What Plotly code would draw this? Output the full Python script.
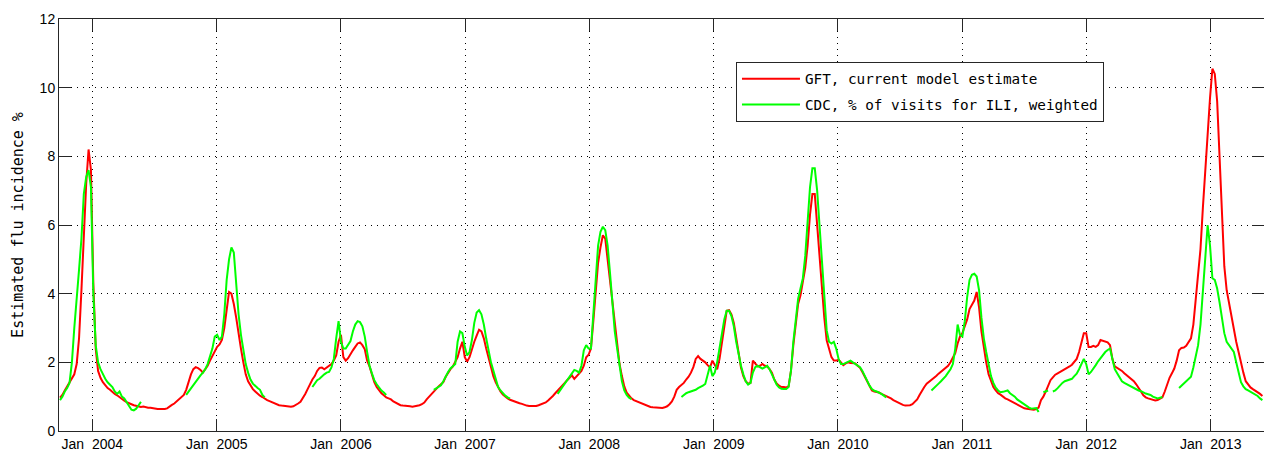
import pandas as pd
import plotly.graph_objects as go

N = None

# Weekly values (week starting Sunday), one list per calendar year
week_starts = {2003: "2003-09-28", 2004: "2004-01-04", 2005: "2005-01-02", 2006: "2006-01-01",
               2007: "2007-01-07", 2008: "2008-01-06", 2009: "2009-01-04", 2010: "2010-01-03",
               2011: "2011-01-02", 2012: "2012-01-01", 2013: "2013-01-06"}

# GFT, current model estimate
gft_2003 = [0.97, 1.05, 1.18, 1.3, 1.45, 1.55, 1.65, 1.95, 2.7, 4.1, 5.7, 7.2, 8.2, 7.6]
gft_2004 = [4.3, 2.4, 1.75, 1.55, 1.42, 1.32, 1.25, 1.2, 1.13, 1.08, 1.04, 0.98, 0.93, 0.88, 0.84, 0.8,
            0.78, 0.75, 0.73, 0.71, 0.7, 0.71, 0.69, 0.68, 0.68, 0.66, 0.66, 0.64, 0.64, 0.63, 0.64, 0.66,
            0.72, 0.76, 0.8, 0.86, 0.92, 0.97, 1.05, 1.2, 1.45, 1.65, 1.8, 1.86, 1.83, 1.78, 1.7, 1.8,
            1.9, 2.05, 2.2, 2.35]
gft_2005 = [2.45, 2.52, 2.65, 3.0, 3.6, 4.05, 4.0, 3.7, 3.3, 2.8, 2.4, 2.0, 1.65, 1.45, 1.32, 1.22,
            1.15, 1.08, 1.03, 0.99, 0.94, 0.9, 0.87, 0.84, 0.8, 0.77, 0.75, 0.74, 0.73, 0.72, 0.7, 0.71,
            0.72, 0.75, 0.8, 0.85, 0.95, 1.08, 1.22, 1.38, 1.5, 1.6, 1.75, 1.84, 1.85, 1.8, 1.85, 1.9,
            1.95, 2.05, 2.2, 2.6]
gft_2006 = [2.8, 2.15, 2.05, 2.12, 2.25, 2.35, 2.45, 2.55, 2.58, 2.5, 2.38, 2.05, 1.88, 1.65, 1.42, 1.28,
            1.17, 1.1, 1.04, 0.98, 0.95, 0.92, 0.86, 0.82, 0.78, 0.75, 0.74, 0.74, 0.74, 0.72, 0.71, 0.72,
            0.73, 0.75, 0.78, 0.83, 0.92, 1.0, 1.08, 1.17, 1.24, 1.3, 1.36, 1.42, 1.58, 1.7, 1.8, 1.88,
            2.0, 2.15, 2.4, 2.6, 2.15]
gft_2007 = [2.02, 2.15, 2.4, 2.6, 2.78, 2.95, 2.9, 2.7, 2.4, 2.12, 1.85, 1.6, 1.42, 1.26, 1.15, 1.06,
            1.0, 0.95, 0.91, 0.88, 0.85, 0.83, 0.81, 0.79, 0.76, 0.74, 0.73, 0.73, 0.72, 0.73, 0.75, 0.77,
            0.79, 0.83, 0.89, 0.95, 1.02, 1.1, 1.17, 1.23, 1.32, 1.4, 1.48, 1.55, 1.62, 1.52, 1.6, 1.66,
            1.75, 1.9, 2.15, 2.22]
gft_2008 = [2.4, 3.2, 4.0, 4.9, 5.35, 5.7, 5.6, 5.0, 4.3, 3.7, 3.1, 2.55, 1.95, 1.6, 1.3, 1.12,
            1.02, 0.95, 0.9, 0.87, 0.84, 0.81, 0.78, 0.75, 0.72, 0.7, 0.69, 0.68, 0.67, 0.66, 0.67, 0.69,
            0.72, 0.78, 0.86, 1.0, 1.2, 1.28, 1.33, 1.4, 1.5, 1.58, 1.7, 1.86, 2.1, 2.18, 2.1, 2.05,
            2.0, 1.92, 1.85, 2.05]
gft_2009 = [1.9, 1.8, 2.1, 2.6, 3.15, 3.5, 3.52, 3.4, 3.15, 2.7, 2.25, 1.85, 1.6, 1.45, 1.38, 1.4,
            2.05, 1.95, 1.88, 1.9, 1.95, 1.9, 1.88, 1.8, 1.7, 1.5, 1.38, 1.32, 1.28, 1.28, 1.27, 1.3,
            1.75, 2.5, 3.2, 3.7, 3.95, 4.3, 4.75, 5.4, 6.3, 6.9, 6.9, 6.0, 5.1, 4.1, 3.3, 2.64,
            2.35, 2.15, 2.05, 2.05]
gft_2010 = [2.08, 2.0, 1.92, 1.97, 2.0, 1.98, 1.97, 1.97, 1.9, 1.84, 1.72, 1.58, 1.45, 1.3, 1.18, 1.15,
            1.14, 1.12, 1.08, 1.05, 1.02, 0.99, 0.95, 0.9, 0.86, 0.82, 0.79, 0.76, 0.74, 0.74, 0.75, 0.78,
            0.84, 0.92, 1.05, 1.18, 1.28, 1.38, 1.43, 1.48, 1.53, 1.6, 1.67, 1.73, 1.78, 1.83, 1.9, 2.0,
            2.12, 2.27, 2.55, 2.75]
gft_2011 = [2.85, 3.05, 3.25, 3.55, 3.68, 3.8, 4.05, 3.6, 2.9, 2.4, 2.0, 1.65, 1.45, 1.28, 1.18, 1.1,
            1.06, 1.0, 0.95, 0.92, 0.88, 0.84, 0.8, 0.76, 0.74, 0.7, 0.66, 0.65, 0.64, 0.61, 0.62, 0.64,
            0.68, 0.9, 1.0, 1.15, 1.3, 1.48, 1.56, 1.64, 1.68, 1.72, 1.75, 1.78, 1.83, 1.88, 1.93, 2.0,
            2.1, 2.3, 2.6, 2.85]
gft_2012 = [2.85, 2.45, 2.45, 2.48, 2.45, 2.5, 2.65, 2.62, 2.6, 2.58, 2.5, 2.1, 1.88, 1.84, 1.8, 1.75,
            1.68, 1.62, 1.56, 1.52, 1.45, 1.36, 1.27, 1.15, 1.04, 0.98, 0.95, 0.93, 0.91, 0.89, 0.9, 0.93,
            0.98, 1.15, 1.35, 1.55, 1.68, 1.82, 2.05, 2.35, 2.42, 2.43, 2.48, 2.58, 2.7, 3.1, 3.8, 4.5,
            5.3, 6.5, 7.6, 8.6, 9.7]
gft_2013 = [10.55, 10.4, 9.6, 8.1, 6.2, 4.8, 4.1, 3.7, 3.3, 3.0, 2.6, 2.3, 1.95, 1.7, 1.45, 1.35,
            1.27, 1.22, 1.18, 1.14, 1.08, 1.02]

# CDC, % of visits for ILI, weighted (None = not reported)
cdc_2003 = [0.9, 1.0, 1.15, 1.25, 1.4, 2.0, 3.0, 4.0, 4.7, 5.6, 6.9, 7.4, 7.6, 7.1]
cdc_2004 = ([4.0, 2.5, 2.0, 1.8, 1.65, 1.52, 1.42, 1.35, 1.28, 1.15, 1.08, 1.15, 1.0, 0.95, 0.85, 0.72,
             0.62, 0.6, 0.65, 0.75, 0.85] + [N] * 18 +
            [1.05, 1.15, 1.25, 1.33, 1.45, 1.55, 1.62, 1.7, 1.8, 1.95, 2.15, 2.4, 2.75])
cdc_2005 = ([2.8, 2.65, 2.75, 3.4, 4.4, 5.0, 5.35, 5.2, 4.3, 3.4, 2.8, 2.3, 1.95, 1.7, 1.5, 1.38,
             1.3, 1.25, 1.2, 1.05, 0.98] + [N] * 19 +
            [1.28, 1.4, 1.48, 1.52, 1.6, 1.65, 1.7, 1.72, 1.85, 2.1, 2.7, 3.2])
cdc_2006 = ([2.6, 2.4, 2.4, 2.5, 2.62, 2.9, 3.1, 3.2, 3.17, 3.05, 2.75, 2.3, 1.9, 1.68, 1.48, 1.36,
             1.25, 1.18, 1.12, 1.05] + [N] * 19 +
            [1.2, 1.25, 1.3, 1.33, 1.45, 1.6, 1.72, 1.82, 1.88, 1.95, 2.6, 2.9, 2.85, 2.45])
cdc_2007 = ([2.2, 2.3, 2.65, 3.15, 3.45, 3.52, 3.4, 3.1, 2.7, 2.3, 2.0, 1.76, 1.5, 1.28, 1.18, 1.1,
             1.03, 0.98, 0.94] + [N] * 19 +
            [1.08, 1.18, 1.25, 1.35, 1.47, 1.56, 1.65, 1.78, 1.75, 1.7, 1.9, 2.35, 2.5, 2.4])
cdc_2008 = ([2.4, 3.5, 4.6, 5.4, 5.8, 5.95, 5.85, 5.4, 4.6, 3.7, 2.9, 2.4, 1.9, 1.45, 1.18, 1.05,
             0.97, 0.93] + [N] * 20 +
            [0.99, 1.05, 1.1, 1.13, 1.15, 1.17, 1.2, 1.25, 1.28, 1.32, 1.37, 1.6, 1.9, 1.6])
cdc_2009 = [1.7, 2.0, 2.45, 2.85, 3.25, 3.5, 3.5, 3.35, 3.05, 2.6, 2.2, 1.9, 1.65, 1.45, 1.35, 1.4,
            1.7, 1.86, 1.9, 1.85, 1.82, 1.85, 1.9, 1.8, 1.65, 1.45, 1.35, 1.27, 1.23, 1.22, 1.22, 1.28,
            1.75, 2.6, 3.3, 3.85, 4.15, 4.45, 5.1, 6.1, 7.1, 7.65, 7.65, 7.0, 6.0, 4.8, 3.7, 2.93,
            2.6, 2.55, 2.6, 2.4]
cdc_2010 = ([2.1, 1.95, 1.95, 1.98, 2.02, 2.05, 2.0, 1.96, 1.9, 1.86, 1.75, 1.6, 1.45, 1.32, 1.22, 1.17,
             1.15, 1.12, 1.08, 1.03, 0.98] + [N] * 18 +
            [1.18, 1.24, 1.32, 1.38, 1.45, 1.52, 1.6, 1.7, 1.8, 1.95, 2.4, 3.1, 2.8])
cdc_2011 = ([2.75, 3.2, 3.9, 4.4, 4.55, 4.58, 4.5, 4.1, 3.3, 2.7, 2.3, 1.95, 1.6, 1.4, 1.26, 1.18,
             1.13, 1.14, 1.16, 1.18, 1.1, 1.05, 1.0, 0.92, 0.87, 0.82, 0.76, 0.72, 0.68, 0.65, 0.66, 0.67,
             0.55] + [N] + [1.13, 1.15, 1.18] + [N] +
            [1.15, 1.18, 1.25, 1.33, 1.4, 1.45, 1.48, 1.5, 1.52, 1.6, 1.67, 1.8, 1.95, 2.1])
cdc_2012 = ([1.95, 1.65, 1.72, 1.81, 1.92, 2.03, 2.12, 2.22, 2.3, 2.36, 2.4, 2.1, 1.8, 1.68, 1.55, 1.45,
             1.4, 1.36, 1.32, 1.3, 1.26, 1.2, 1.18, 1.16, 1.12, 1.09, 1.07, 1.05, 1.0, 0.97, 0.95, 0.97,
             0.99] + [N] * 6 +
            [1.25, 1.32, 1.38, 1.45, 1.52, 1.58, 1.85, 2.15, 2.5, 3.1, 4.1, 5.2, 6.0, 5.4])
cdc_2013 = [4.45, 4.4, 4.15, 3.75, 3.3, 2.85, 2.6, 2.5, 2.42, 2.3, 2.0, 1.7, 1.42, 1.3, 1.22, 1.18,
            1.14, 1.1, 1.08, 1.02, 0.95, 0.9]

gft_by_year = {2003: gft_2003, 2004: gft_2004, 2005: gft_2005, 2006: gft_2006, 2007: gft_2007,
               2008: gft_2008, 2009: gft_2009, 2010: gft_2010, 2011: gft_2011, 2012: gft_2012,
               2013: gft_2013}
cdc_by_year = {2003: cdc_2003, 2004: cdc_2004, 2005: cdc_2005, 2006: cdc_2006, 2007: cdc_2007,
               2008: cdc_2008, 2009: cdc_2009, 2010: cdc_2010, 2011: cdc_2011, 2012: cdc_2012,
               2013: cdc_2013}

tick_years = list(range(2004, 2014))
tick_labels = [f"Jan\u00a0\u00a0{y}" for y in tick_years]
y_ticks = [0, 2, 4, 6, 8, 10, 12]


def build(series):
    xs, ys = [], []
    for yr, vals in series.items():
        d = pd.date_range(start=week_starts[yr], periods=len(vals), freq="7D")
        xs.extend(list(d))
        ys.extend(vals)
    return xs, ys


gx, gy = build(gft_by_year)
cx, cy = build(cdc_by_year)

MONO = "DejaVu Sans Mono"
SANS = "Liberation Sans, Arial, sans-serif"
AX = "#262626"

fig = go.Figure()
fig.add_trace(go.Scatter(x=gx, y=gy, mode="lines", name="GFT, current model estimate",
                         line=dict(color="#ff0000", width=2), connectgaps=False,
                         legendgroup="a"))
fig.add_trace(go.Scatter(x=cx, y=cy, mode="lines", name="CDC, % of visits for ILI, weighted",
                         line=dict(color="#00ff00", width=2), connectgaps=False,
                         legendgroup="b"))

fig.update_layout(
    width=1264, height=452,
    margin=dict(l=59, r=0, t=19, b=21, pad=0),
    paper_bgcolor="white", plot_bgcolor="white",
    showlegend=True,
    legend=dict(x=0.5618, y=0.8956, xanchor="left", yanchor="top",
                bgcolor="white", bordercolor=AX, borderwidth=1,
                font=dict(family=MONO, size=14.3, color="black"),
                tracegroupgap=4, itemwidth=58),
    xaxis=dict(type="date", range=["2003-09-25 01:30", "2013-06-06 17:00"],
               tickvals=[f"{y}-01-01" for y in tick_years], ticktext=tick_labels,
               ticks="inside", ticklen=12, tickcolor=AX, tickwidth=1,
               showline=True, linecolor=AX, linewidth=1, mirror="ticks",
               showgrid=True, gridcolor="#000000", gridwidth=1, griddash="1px,5px",
               tickfont=dict(family=SANS, size=14, color="black"), zeroline=False),
    yaxis=dict(range=[0, 12], tickvals=y_ticks, ticktext=[str(v) for v in y_ticks],
               ticks="inside", ticklen=12, tickcolor=AX, tickwidth=1,
               showline=True, linecolor=AX, linewidth=1, mirror="ticks",
               showgrid=True, gridcolor="#000000", gridwidth=1, griddash="1px,5px",
               tickfont=dict(family=SANS, size=14, color="black"), zeroline=False,
               title=dict(text="Estimated flu incidence %", standoff=12,
                          font=dict(family=MONO, size=15, color="black"))),
)

fig.write_html("out.html", config={"displayModeBar": False},
               post_script="document.body.style.margin='0px';document.body.style.overflow='hidden';")
